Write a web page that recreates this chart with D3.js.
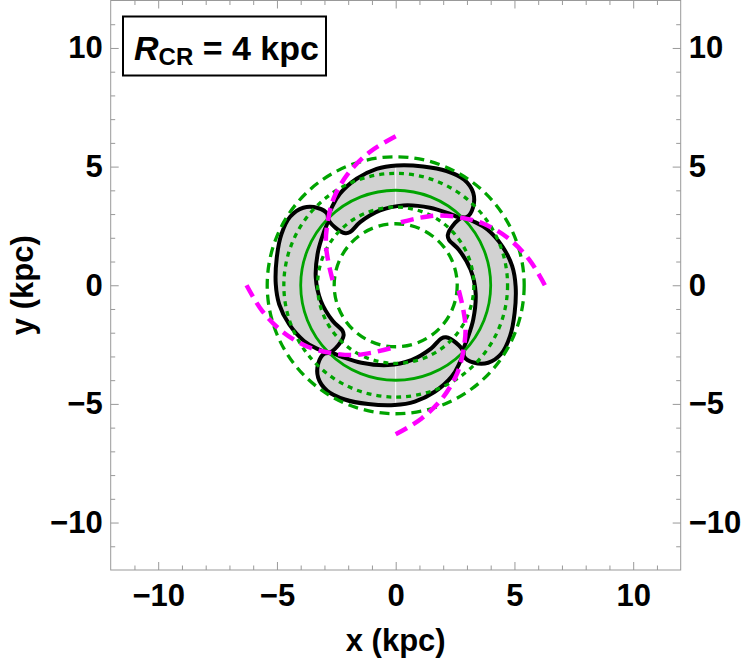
<!DOCTYPE html>
<html>
<head>
<meta charset="utf-8">
<script src="https://cdn.jsdelivr.net/npm/d3@7"></script>
<style>
  body { margin: 0; background: #fff; }
  text { font-family: "Liberation Sans", Arial, sans-serif; font-weight: bold; }
</style>
</head>
<body>
<svg id="chart" width="746" height="665"></svg>
<script>
// axis ticks
var majorTicks = [-10, -5, 0, 5, 10]
var minorTicks = [-11, -9, -8, -7, -6, -4, -3, -2, -1, 1, 2, 3, 4, 6, 7, 8, 9, 11]

// resonance circles (kpc) and their kind
var circleRadii = [2.59, 3.29, 4, 4.71, 5.41]
var circleKinds = ["dashed", "dotted", "solid", "dotted", "dashed"]

// one spiral arm, [angle deg, radius kpc], repeated at the offsets below
var armPoints = [[90, 6.28], [101, 5.72], [113, 5.12], [125, 4.52], [135.4, 3.99], [148, 3.47], [160, 3.03], [180, 2.6]]
var armOffsets = [0, -90, 90, 180]

// outline of one gray band, [angle deg, radius kpc], repeated at the offsets below
var bandPoints = [
  [135.4, 3.99], [128.5, 4.27], [121.3, 4.52], [110.1, 4.78], [99.3, 4.97], [89.5, 5.05],
  [77, 5.14], [66, 5.27], [57, 5.3], [50, 5.08], [45.2, 4.62], [43.8, 4.17],
  [47.5, 3.9], [52.7, 3.78], [66.2, 3.57], [84.6, 3.38], [101.8, 3.22], [119.4, 3.05],
  [130.6, 2.95], [134, 3.05], [136.3, 3.5]
]
var bandOffsets = [0, 90, 180, 270]

var svg = d3.select("#chart")

var x = d3.scaleLinear().domain([-12, 12]).range([110.7, 680.7])
var y = d3.scaleLinear().domain([-12, 12]).range([570, 0.5])

function polar(a, r) {
  var t = a * Math.PI / 180
  return [x(r * Math.cos(t)), y(r * Math.sin(t))]
}

var defs = svg.append("defs")
defs.append("clipPath").attr("id", "plotClip")
    .append("rect")
    .attr("x", x(-12)).attr("y", y(12))
    .attr("width", x(12) - x(-12)).attr("height", y(-12) - y(12))

var plot = svg.append("g").attr("clip-path", "url(#plotClip)")

var bandLine = d3.line().curve(d3.curveCatmullRomClosed.alpha(0.5))
var bandPaths = bandOffsets.map(function(off) {
  return bandLine(bandPoints.map(function(p) { return polar(p[0] + off, p[1]) }))
})

var bandClip = defs.append("clipPath").attr("id", "bandClip")
bandClip.selectAll("path").data(bandPaths).enter().append("path").attr("d", function(d) { return d })

// gray band fill
plot.append("g").selectAll("path").data(bandPaths).enter()
    .append("path")
    .attr("d", function(d) { return d })
    .attr("fill", "#d2d2d2")
    .attr("stroke", "none")

// thin white seam at x = 0 inside the bands
plot.append("line")
    .attr("x1", x(0)).attr("x2", x(0))
    .attr("y1", y(7)).attr("y2", y(-7))
    .attr("stroke", "#fff").attr("stroke-width", 1)
    .attr("clip-path", "url(#bandClip)")

// band outlines
plot.append("g").selectAll("path").data(bandPaths).enter()
    .append("path")
    .attr("d", function(d) { return d })
    .attr("fill", "none")
    .attr("stroke", "#000")
    .attr("stroke-width", 4)
    .attr("stroke-linejoin", "round")

// green circles
var dashFor = { dashed: "10,6", dotted: "5,5", solid: null }
plot.append("g").selectAll("circle").data(circleRadii).enter()
    .append("circle")
    .attr("cx", x(0))
    .attr("cy", y(0))
    .attr("r", function(d) { return x(d) - x(0) })
    .attr("fill", "none")
    .attr("stroke", "#00a400")
    .attr("stroke-width", function(d, i) { return circleKinds[i] == "solid" ? 2.8 : 3.3 })
    .attr("stroke-dasharray", function(d, i) { return dashFor[circleKinds[i]] })

// magenta spiral arms
var armLine = d3.line().curve(d3.curveCatmullRom.alpha(0.5))
plot.append("g").selectAll("path").data(armOffsets).enter()
    .append("path")
    .attr("d", function(off) {
      return armLine(armPoints.map(function(p) { return polar(p[0] + off, p[1]) }))
    })
    .attr("fill", "none")
    .attr("stroke", "#ff00ff")
    .attr("stroke-width", 4.5)
    .attr("stroke-dasharray", "13,7")

// axes: ticks inside on all four sides
function styleAxis(g) {
  g.select(".domain").remove()
  g.selectAll("line").attr("stroke", "#999").attr("stroke-width", 1)
  g.selectAll("text").attr("font-size", 31).attr("fill", "#000")
    .style("font-family", "'Liberation Sans', Arial, sans-serif").style("font-weight", "bold")
}

var fmt = d3.format("d")
svg.append("g").attr("transform", "translate(0," + y(-12) + ")")
   .call(d3.axisBottom(x).tickValues(majorTicks).tickSize(-8).tickPadding(14).tickFormat(fmt)).call(styleAxis)
svg.append("g").attr("transform", "translate(0," + y(-12) + ")")
   .call(d3.axisBottom(x).tickValues(minorTicks).tickSize(-4.5).tickFormat("")).call(styleAxis)
svg.append("g").attr("transform", "translate(0," + y(12) + ")")
   .call(d3.axisTop(x).tickValues(majorTicks).tickSize(-8).tickFormat("")).call(styleAxis)
svg.append("g").attr("transform", "translate(0," + y(12) + ")")
   .call(d3.axisTop(x).tickValues(minorTicks).tickSize(-4.5).tickFormat("")).call(styleAxis)
svg.append("g").attr("transform", "translate(" + x(-12) + ",0)")
   .call(d3.axisLeft(y).tickValues(majorTicks).tickSize(-8).tickPadding(8).tickFormat(fmt)).call(styleAxis)
svg.append("g").attr("transform", "translate(" + x(-12) + ",0)")
   .call(d3.axisLeft(y).tickValues(minorTicks).tickSize(-4.5).tickFormat("")).call(styleAxis)
svg.append("g").attr("transform", "translate(" + x(12) + ",0)")
   .call(d3.axisRight(y).tickValues(majorTicks).tickSize(-8).tickPadding(8).tickFormat(fmt)).call(styleAxis)
svg.append("g").attr("transform", "translate(" + x(12) + ",0)")
   .call(d3.axisRight(y).tickValues(minorTicks).tickSize(-4.5).tickFormat("")).call(styleAxis)

// frame
svg.append("rect")
   .attr("x", x(-12)).attr("y", y(12))
   .attr("width", x(12) - x(-12)).attr("height", y(-12) - y(12))
   .attr("fill", "none").attr("stroke", "#999").attr("stroke-width", 1)

// axis titles
svg.append("text")
   .attr("x", x(0)).attr("y", 651)
   .attr("text-anchor", "middle").attr("font-size", 31)
   .text("x (kpc)")
svg.append("text")
   .attr("transform", "translate(33," + y(0) + ") rotate(-90)")
   .attr("text-anchor", "middle").attr("font-size", 31)
   .text("y (kpc)")

// label box
svg.append("rect")
   .attr("x", 123).attr("y", 16.5).attr("width", 203).attr("height", 59)
   .attr("fill", "#fff").attr("stroke", "#000").attr("stroke-width", 2)
var lbl = svg.append("text").attr("x", 134).attr("y", 60).attr("font-size", 34)
lbl.append("tspan").attr("font-style", "italic").text("R")
lbl.append("tspan").attr("font-size", 24).attr("dy", 5).text("CR")
lbl.append("tspan").attr("dy", -5).text(" = 4 kpc")
</script>
</body>
</html>
